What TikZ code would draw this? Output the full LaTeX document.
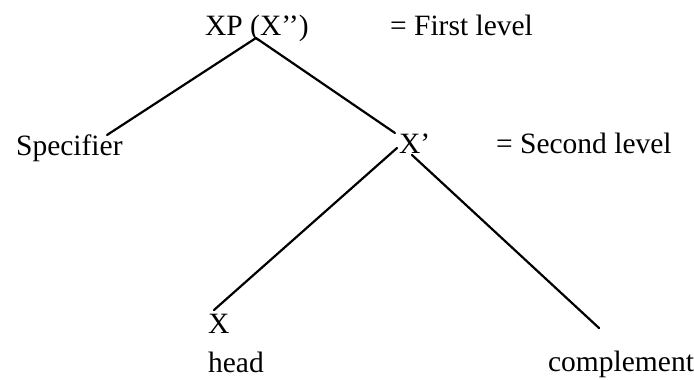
\documentclass[tikz,border=0pt]{standalone}
\usepackage{fontspec}
\setmainfont{Liberation Serif}
\usetikzlibrary{calc}

\tikzset{lbl/.style={anchor=base west,inner sep=0pt,font=\fontsize{29.5}{35}\selectfont}}

\begin{document}
\begin{tikzpicture}[x=1pt,y=-1pt,line width=2.2pt,line cap=round]
  \useasboundingbox (0,0) rectangle (694,380);
  % labels
  \node[lbl] (xp) at (204,35) {XP (X’’)};
  \node[lbl] (first) at (389,35) {= First level};
  \node[lbl] (spec) at (15,155) {Specifier};
  \node[lbl] (xbar) at (398,153) {X’};
  \node[lbl] (second) at (495,153) {= Second level};
  \node[lbl] (x) at (207,333) {X};
  \node[lbl] (head) at (207,372) {head};
  \node[lbl] (comp) at (547,371) {complement};
  % branches
  \draw ($(xp.base west)+(52,3)$) -- ($(spec.base west)+(92,-20)$);
  \draw ($(xp.base west)+(52,3)$) -- ($(xbar.base west)+(-3,-20)$);
  \draw ($(xbar.base west)+(-1,-5)$) -- ($(x.base west)+(7,-23)$);
  \draw ($(xbar.base west)+(14,2)$) -- ($(comp.base west)+(52,-43)$);
\end{tikzpicture}
\end{document}
